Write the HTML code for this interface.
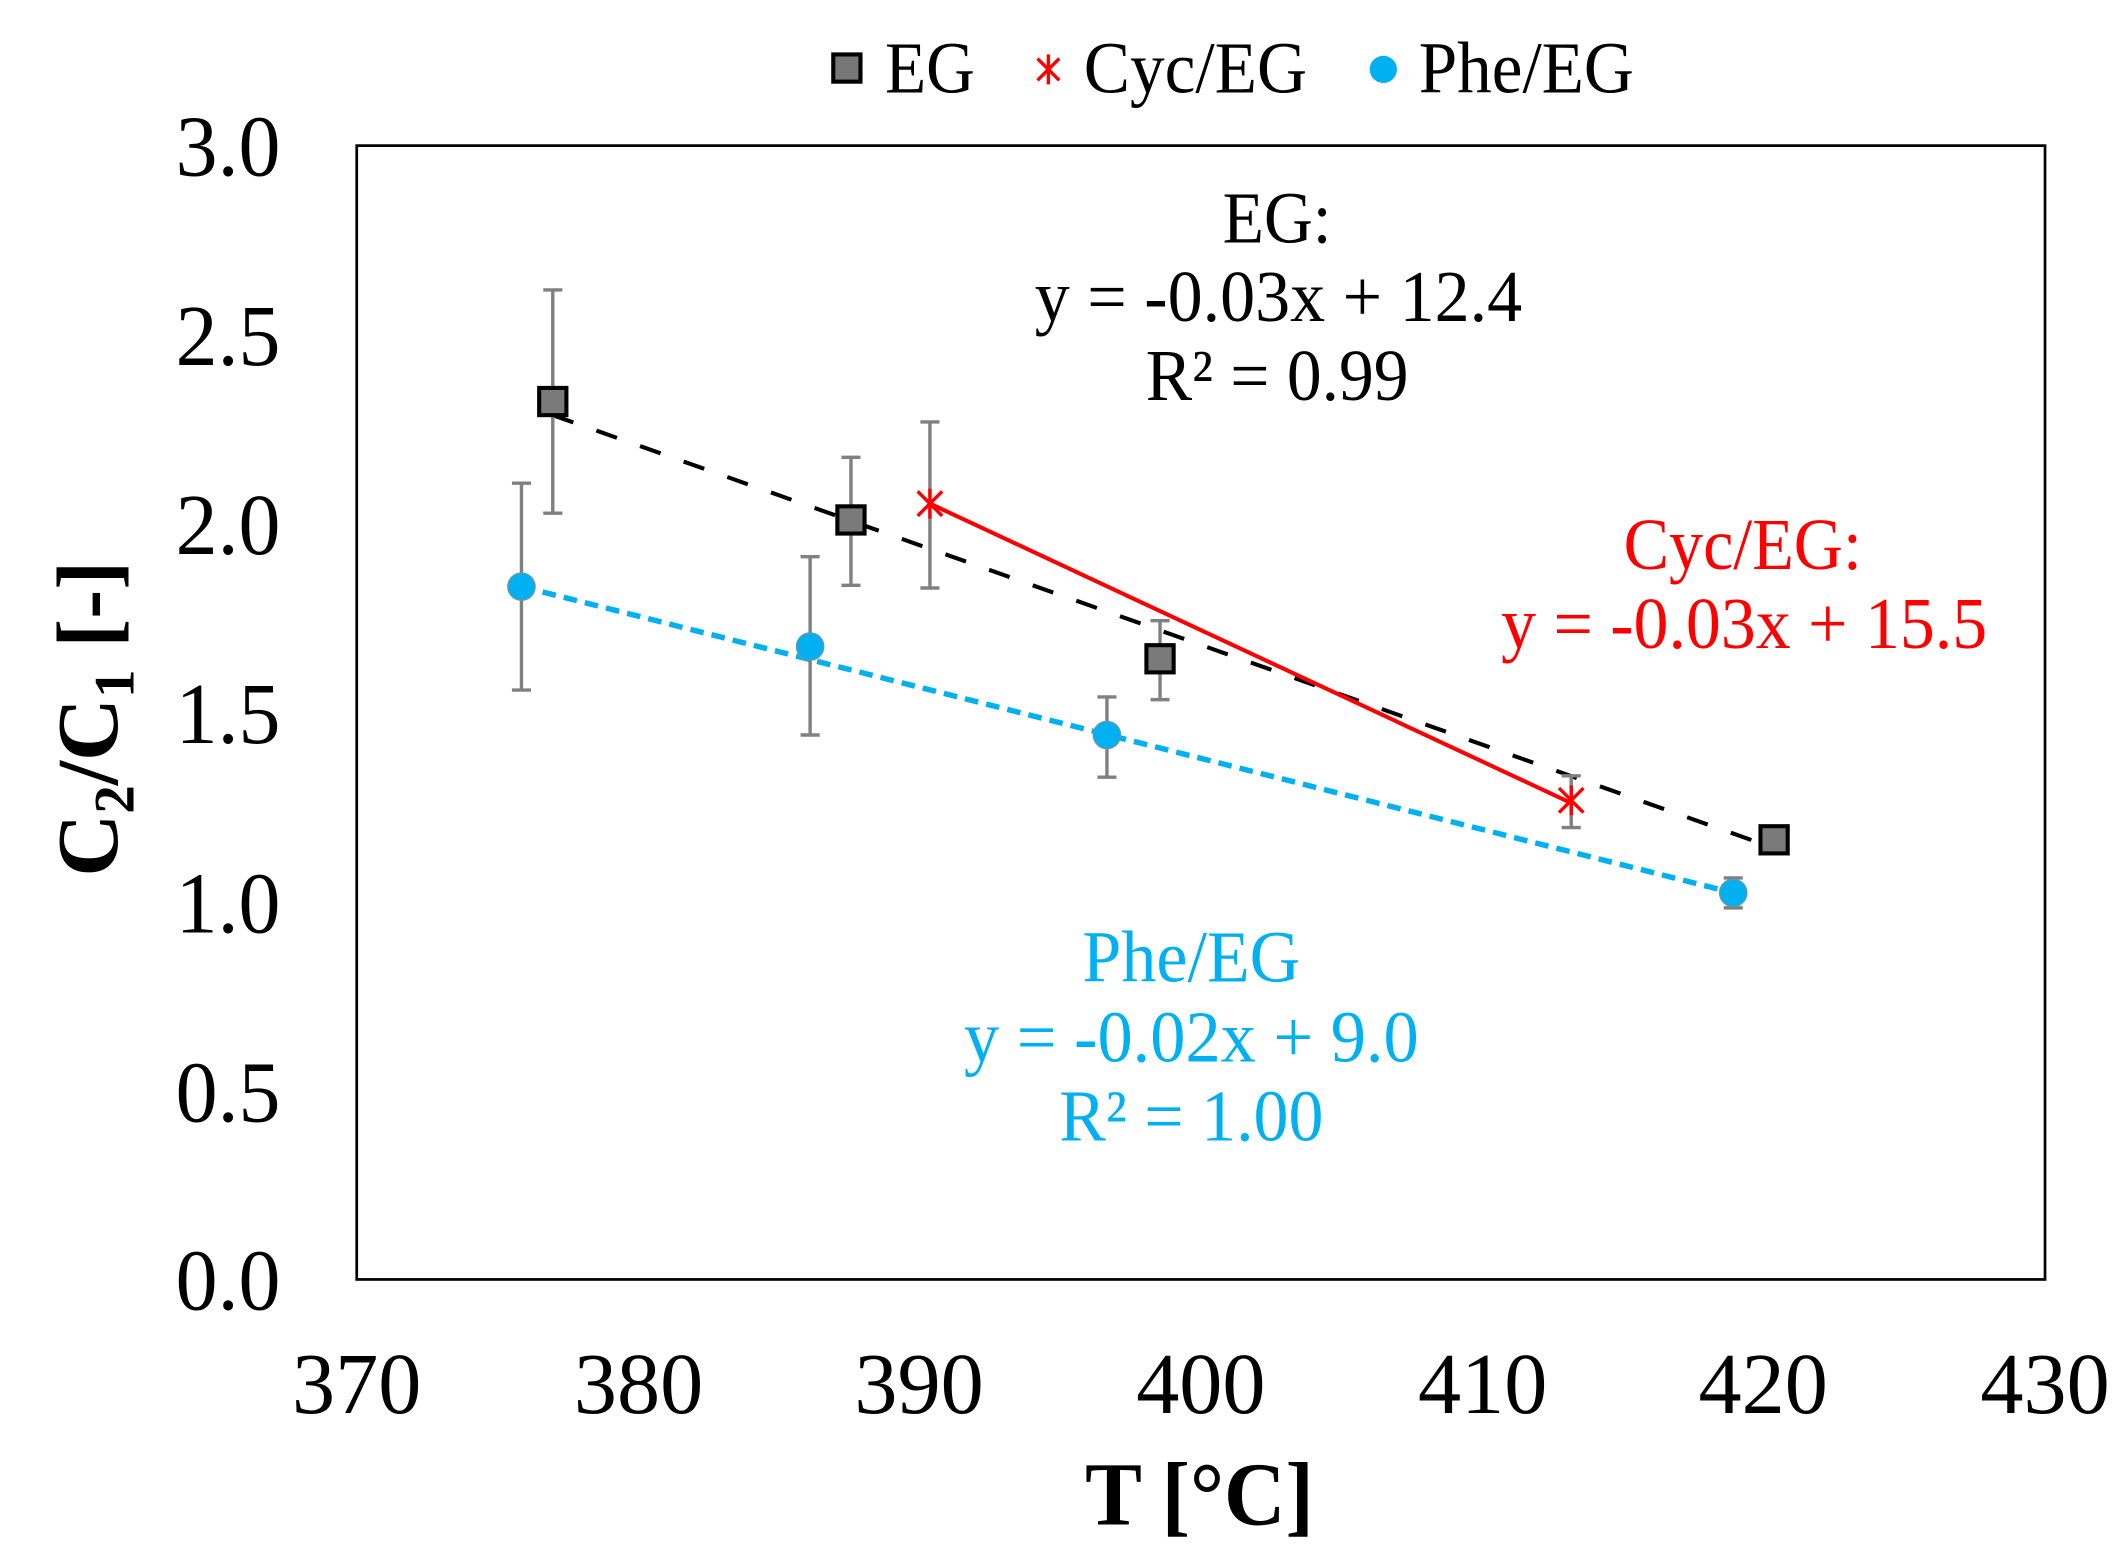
<!DOCTYPE html>
<html><head><meta charset="utf-8"><style>
html,body{margin:0;padding:0;background:#fff;width:2124px;height:1568px;overflow:hidden}
svg{display:block}
text{font-family:"Liberation Serif",serif}
</style></head><body>
<svg width="2124" height="1568" viewBox="0 0 1560 1152" preserveAspectRatio="none" xmlns="http://www.w3.org/2000/svg">
<rect x="262" y="107" width="1240" height="833" fill="none" stroke="#000" stroke-width="2"/>
<g font-size="64" text-anchor="end" fill="#000">
<text x="206" y="129" textLength="77" lengthAdjust="spacingAndGlyphs">3.0</text>
<text x="206" y="268" textLength="77" lengthAdjust="spacingAndGlyphs">2.5</text>
<text x="206" y="407" textLength="77" lengthAdjust="spacingAndGlyphs">2.0</text>
<text x="206" y="546" textLength="77" lengthAdjust="spacingAndGlyphs">1.5</text>
<text x="206" y="685" textLength="77" lengthAdjust="spacingAndGlyphs">1.0</text>
<text x="206" y="824" textLength="77" lengthAdjust="spacingAndGlyphs">0.5</text>
<text x="206" y="962" textLength="77" lengthAdjust="spacingAndGlyphs">0.0</text>
</g>
<g font-size="64" text-anchor="middle" fill="#000">
<text x="262" y="1038" textLength="95" lengthAdjust="spacingAndGlyphs">370</text>
<text x="469" y="1038" textLength="95" lengthAdjust="spacingAndGlyphs">380</text>
<text x="675" y="1038" textLength="95" lengthAdjust="spacingAndGlyphs">390</text>
<text x="882" y="1038" textLength="95" lengthAdjust="spacingAndGlyphs">400</text>
<text x="1089" y="1038" textLength="95" lengthAdjust="spacingAndGlyphs">410</text>
<text x="1295" y="1038" textLength="95" lengthAdjust="spacingAndGlyphs">420</text>
<text x="1502" y="1038" textLength="95" lengthAdjust="spacingAndGlyphs">430</text>
</g>
<text x="881" y="1120" font-size="66" font-weight="bold" text-anchor="middle" textLength="168" lengthAdjust="spacingAndGlyphs">T [°C]</text>
<text transform="translate(86,528) rotate(-90)" font-size="64" font-weight="bold" text-anchor="middle">C<tspan font-size="42" dy="12">2</tspan><tspan dy="-12">/C</tspan><tspan font-size="42" dy="12">1</tspan><tspan dy="-12"> [-]</tspan></text>
<!-- legend -->
<rect x="612" y="40" width="20" height="20" fill="#777" stroke="#000" stroke-width="3"/>
<text x="650" y="68" font-size="54" textLength="66" lengthAdjust="spacingAndGlyphs">EG</text>
<g stroke="#f00" stroke-width="2.5"><line x1="762" y1="43" x2="778" y2="59"/><line x1="778" y1="43" x2="762" y2="59"/><line x1="770" y1="40" x2="770" y2="62"/></g>
<text x="796" y="68" font-size="54" textLength="164" lengthAdjust="spacingAndGlyphs">Cyc/EG</text>
<circle cx="1016" cy="51" r="10" fill="#00b0f0"/>
<text x="1042" y="68" font-size="54" textLength="158" lengthAdjust="spacingAndGlyphs">Phe/EG</text>
<!-- trend lines -->
<line x1="406" y1="305" x2="1300" y2="622" stroke="#000" stroke-width="3" stroke-dasharray="16,18"/>
<line x1="683" y1="370" x2="1154" y2="590" stroke="#f00" stroke-width="3"/>
<line x1="383" y1="431" x2="1273" y2="656" stroke="#00b0f0" stroke-width="4" stroke-dasharray="10,6"/>
<!-- error bars -->
<g stroke="#808080" stroke-width="2.5">
<path d="M406 213V377M399 213H413M399 377H413"/>
<path d="M625 336V430M618 336H632M618 430H632"/>
<path d="M852 456V514M845 456H859M845 514H859"/>
<path d="M1303 610V626M1296 610H1310M1296 626H1310"/>
<path d="M683 310V432M676 310H690M676 432H690"/>
<path d="M1154 570V608M1147 570H1161M1147 608H1161"/>
<path d="M383 355V507M376 355H390M376 507H390"/>
<path d="M595 409V540M588 409H602M588 540H602"/>
<path d="M813 512V571M806 512H820M806 571H820"/>
<path d="M1273 645V667M1266 645H1280M1266 667H1280"/>
</g>
<!-- markers -->
<g fill="#7a7a7a" stroke="#000" stroke-width="3">
<rect x="396" y="285" width="20" height="20"/>
<rect x="615" y="372" width="20" height="20"/>
<rect x="842" y="474" width="20" height="20"/>
<rect x="1293" y="607" width="20" height="20"/>
</g>
<g stroke="#f00" stroke-width="2.5">
<path d="M674 361L692 379M692 361L674 379M683 359V381"/>
<path d="M1145 579L1163 597M1163 579L1145 597M1154 577V599"/>
</g>
<g fill="#00b0f0" stroke="#5a9ab5" stroke-width="1">
<circle cx="383" cy="431" r="10"/>
<circle cx="595" cy="475" r="10"/>
<circle cx="813" cy="540" r="10"/>
<circle cx="1273" cy="656" r="10"/>
</g>
<!-- annotations -->
<g font-size="54" text-anchor="middle">
<text x="938" y="178" textLength="80" lengthAdjust="spacingAndGlyphs">EG:</text>
<text x="939" y="236" textLength="358" lengthAdjust="spacingAndGlyphs">y = -0.03x + 12.4</text>
<text x="938" y="294" textLength="193" lengthAdjust="spacingAndGlyphs">R² = 0.99</text>
<text x="1280" y="418" fill="#f00" textLength="175" lengthAdjust="spacingAndGlyphs">Cyc/EG:</text>
<text x="1281" y="476" fill="#f00" textLength="357" lengthAdjust="spacingAndGlyphs">y = -0.03x + 15.5</text>
<text x="875" y="721" fill="#00b0f0" textLength="160" lengthAdjust="spacingAndGlyphs">Phe/EG</text>
<text x="875" y="780" fill="#00b0f0" textLength="334" lengthAdjust="spacingAndGlyphs">y = -0.02x + 9.0</text>
<text x="875" y="838" fill="#00b0f0" textLength="194" lengthAdjust="spacingAndGlyphs">R² = 1.00</text>
</g>
</svg>
</body></html>
